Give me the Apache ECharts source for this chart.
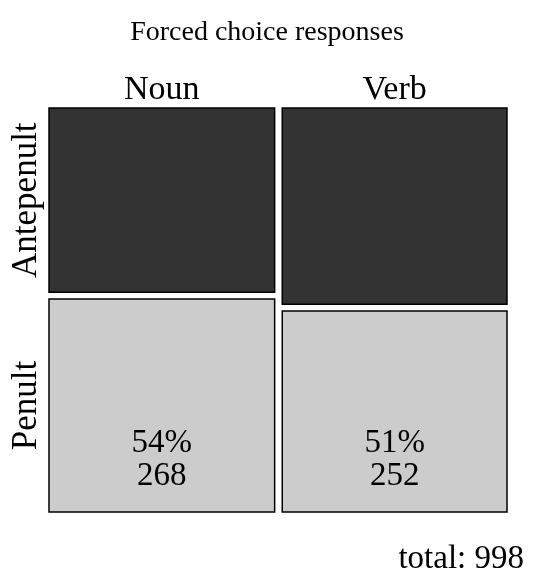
<!DOCTYPE html>
<html>
<head>
<meta charset="utf-8">
<script src="https://cdn.jsdelivr.net/npm/echarts@6/dist/echarts.min.js"></script>
<style>html,body{margin:0;padding:0;background:#fff}#c{width:534px;height:580px}</style>
</head>
<body>
<div id="c"></div>
<script>
var columns = ['Noun', 'Verb'];
var rows = ['Antepenult', 'Penult'];
var antepenult = [232, 246];
var penult = [268, 252];
var titleText = 'Forced choice responses';

var FONT = '"Liberation Serif", "Times New Roman", serif';
var xGap = 0.0166, yGap = 0.0165;

var colTotals = columns.map(function (c, i) { return antepenult[i] + penult[i]; });
var grand = colTotals.reduce(function (a, b) { return a + b; }, 0);

var cells = [];
var xStart = 0;
for (var i = 0; i < columns.length; i++) {
  var w = (1 - xGap * (columns.length - 1)) * colTotals[i] / grand;
  var vals = [antepenult[i], penult[i]];
  var yStart = 0;
  for (var j = 0; j < rows.length; j++) {
    var h = (1 - yGap * (rows.length - 1)) * vals[j] / colTotals[i];
    cells.push([xStart, xStart + w, yStart, yStart + h, vals[j], i, j,
      Math.round(100 * vals[j] / colTotals[i])]);
    yStart += h + yGap;
  }
  xStart += w + xGap;
}

var chart = echarts.init(document.getElementById('c'), null, {renderer: 'canvas'});
chart.setOption({
  animation: false,
  title: {
    text: titleText, left: 'center', top: 14,
    textStyle: {fontFamily: FONT, fontSize: 28, fontWeight: 'normal', color: '#000'}
  },
  grid: {left: 49, top: 108, width: 458, height: 404},
  xAxis: {type: 'value', min: 0, max: 1, show: false},
  yAxis: {type: 'value', min: 0, max: 1, inverse: true, show: false},
  graphic: [{
    type: 'text', right: 10, bottom: 4,
    style: {text: 'total: ' + grand, font: '33px ' + FONT, fill: '#000'}
  }],
  series: [{
    type: 'custom',
    coordinateSystem: 'cartesian2d',
    encode: {x: [0, 1], y: [2, 3]},
    data: cells,
    renderItem: function (params, api) {
      var p0 = api.coord([api.value(0), api.value(2)]);
      var p1 = api.coord([api.value(1), api.value(3)]);
      var ci = api.value(5), rj = api.value(6);
      var x = p0[0], y = p0[1], w = p1[0] - p0[0], h = p1[1] - p0[1];
      var children = [{
        type: 'rect',
        shape: {x: x, y: y, width: w, height: h},
        style: {fill: rj === 0 ? '#333333' : '#cccccc', stroke: '#000', lineWidth: 1.5}
      }];
      if (rj === rows.length - 1) {
        children.push({
          type: 'text',
          style: {
            text: api.value(7) + '%\n' + api.value(4),
            x: x + w / 2, y: y + h - 19,
            align: 'center', verticalAlign: 'bottom',
            font: '33px ' + FONT, lineHeight: 33, fill: '#000'
          }
        });
      }
      if (rj === 0) {
        children.push({
          type: 'text',
          style: {
            text: columns[ci], x: x + w / 2, y: y - 1,
            align: 'center', verticalAlign: 'bottom',
            font: '34px ' + FONT, fill: '#000'
          }
        });
      }
      if (ci === 0) {
        children.push({
          type: 'text',
          x: x - 22, y: y + h / 2, rotation: Math.PI / 2,
          style: {
            text: rows[rj], x: 0, y: 0,
            align: 'center', verticalAlign: 'middle',
            font: '35px ' + FONT, fill: '#000'
          }
        });
      }
      return {type: 'group', children: children};
    }
  }]
});
</script>
</body>
</html>
